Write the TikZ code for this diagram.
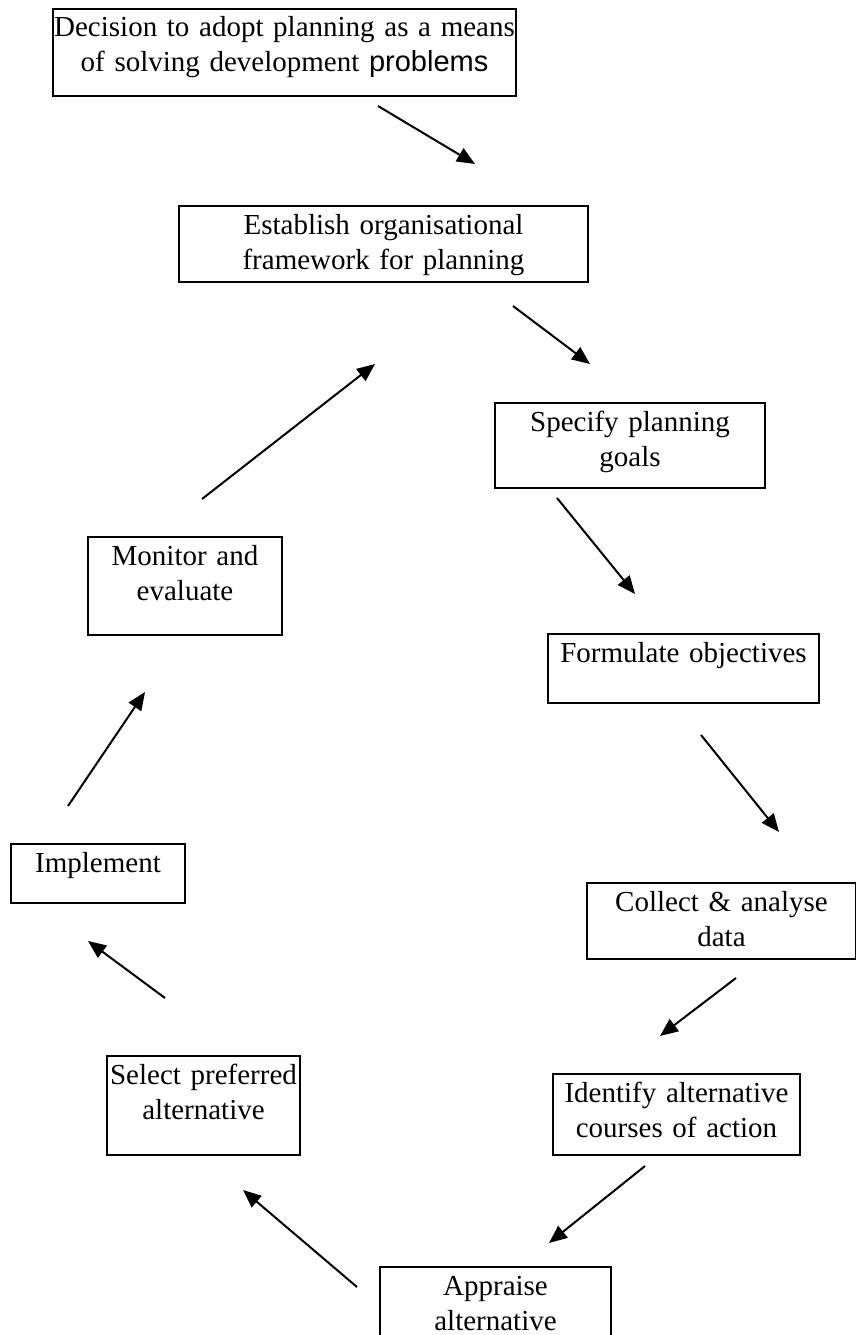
\documentclass[tikz,border=0pt]{standalone}
\usepackage{fontspec}
\setmainfont{Liberation Serif}
\newfontfamily\arialfont{Liberation Sans}
\usetikzlibrary{arrows.meta}

\begin{document}
\begin{tikzpicture}[
  x=1pt, y=-1pt,
  stage/.style={draw=black, line width=2pt, anchor=north west,
    inner xsep=0pt, inner ysep=0pt, align=center, text height=28pt,
    font=\fontsize{29}{35}\selectfont},
  flow/.style={draw=black, line width=2pt, -{Triangle[length=18pt,width=15pt]}}
]
  \useasboundingbox (0,0) rectangle (856,1335);

  \node[stage, text width=463pt, text depth=59pt] (dec) at (52,8)
    {Decision to adopt planning as a means\\ of solving development {\arialfont problems}};
  \node[stage, text width=409pt, text depth=48pt] (est) at (178,205)
    {Establish organisational\\ framework for planning};
  \node[stage, text width=270pt, text depth=57pt] (spec) at (494,402)
    {Specify planning\\ goals};
  \node[stage, text width=271pt, text depth=41pt] (form) at (547,633)
    {Formulate objectives};
  \node[stage, text width=269pt, text depth=48pt] (coll) at (586,882)
    {Collect \& analyse\\ data};
  \node[stage, text width=247pt, text depth=53pt] (iden) at (552,1073)
    {Identify alternative\\ courses of action};
  \node[stage, text width=231pt, text depth=51pt] (appr) at (379,1266)
    {Appraise\\ alternative};
  \node[stage, text width=193pt, text depth=71pt] (sel) at (106,1055)
    {Select preferred\\ alternative};
  \node[stage, text width=174pt, text depth=31pt] (impl) at (10,843)
    {Implement};
  \node[stage, text width=194pt, text depth=70pt] (mon) at (87,536)
    {Monitor and\\ evaluate};

  \coordinate (dec-out) at (378,106);
  \coordinate (est-in) at (475,164);
  \coordinate (est-out) at (513,306);
  \coordinate (spec-in) at (590,364);
  \coordinate (spec-out) at (557,498);
  \coordinate (form-in) at (635,594);
  \coordinate (form-out) at (701,735);
  \coordinate (coll-in) at (779,832);
  \coordinate (coll-out) at (736,978);
  \coordinate (iden-in) at (660,1036);
  \coordinate (iden-out) at (645,1166);
  \coordinate (appr-in) at (549,1243);
  \coordinate (appr-out) at (357,1287);
  \coordinate (sel-in) at (243,1190);
  \coordinate (sel-out) at (165,998);
  \coordinate (impl-in) at (88,941);
  \coordinate (impl-out) at (68,806);
  \coordinate (mon-in) at (145,692);
  \coordinate (mon-out) at (202,499);
  \coordinate (est-back) at (375,364);

  \draw[flow] (dec-out) -- (est-in);
  \draw[flow] (est-out) -- (spec-in);
  \draw[flow] (spec-out) -- (form-in);
  \draw[flow] (form-out) -- (coll-in);
  \draw[flow] (coll-out) -- (iden-in);
  \draw[flow] (iden-out) -- (appr-in);
  \draw[flow] (appr-out) -- (sel-in);
  \draw[flow] (sel-out) -- (impl-in);
  \draw[flow] (impl-out) -- (mon-in);
  \draw[flow] (mon-out) -- (est-back);
\end{tikzpicture}
\end{document}
